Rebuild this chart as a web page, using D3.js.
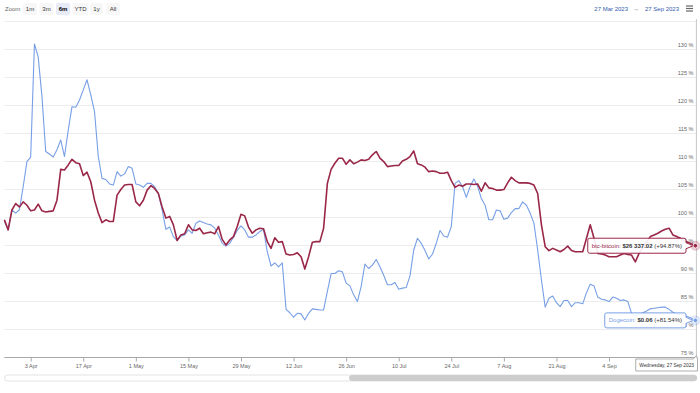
<!DOCTYPE html>
<html>
<head>
<meta charset="utf-8">
<script src="https://cdn.jsdelivr.net/npm/d3@7"></script>
<style>
  body { margin: 0; background: #fff; }
  svg { display: block; font-family: "Liberation Sans", Arial, sans-serif; }
</style>
</head>
<body>
<svg id="chart" width="700" height="393"></svg>
<script>
// daily closes, rebased to 100 on the first day
var firstDay = "2023-03-27";
var lastDay = "2023-09-27";

var btc = [
  99.5, 97.7, 101.25, 102.4, 101.8, 102.7, 102.1, 101.1, 101.25, 102.3,
  101.1, 100.9, 101.0, 101.1, 103.0, 108.5, 108.4, 109.3, 110.3, 109.7,
  109.5, 107.4, 108.0, 106.3, 103.0, 100.7, 99.0, 99.5, 99.2, 99.2,
  103.9, 104.9, 105.7, 105.8, 105.8, 102.7, 102.0, 103.0, 104.8, 105.6,
  105.1, 104.2, 101.8, 99.8, 100.1, 98.6, 95.8, 96.8, 97.0, 98.6,
  97.7, 97.6, 98.0, 97.0, 97.2, 97.3, 97.0, 98.3, 96.0, 95.0,
  95.9, 96.5, 98.3, 100.5, 100.2, 98.2, 97.1, 97.7, 98.0, 97.9,
  95.6, 94.4, 96.3, 95.5, 95.6, 93.4, 93.2, 93.3, 93.6, 92.9,
  90.7, 92.9, 95.5, 95.6, 95.6, 98.0, 106.0, 108.5, 109.6, 110.5,
  110.5, 109.4, 110.2, 109.5, 109.8, 110.2, 110.1, 110.3, 111.1, 111.7,
  110.5, 109.9, 109.0, 109.1, 109.2, 109.2, 110.0, 110.3, 110.8, 111.8,
  109.5, 109.3, 108.9, 108.1, 108.2, 108.1, 107.8, 107.8, 108.0, 106.5,
  105.3, 105.7, 105.5, 105.9, 105.9, 105.8, 105.9, 104.6, 106.1, 105.2,
  105.1, 104.8, 104.8, 104.9, 106.1, 107.1, 106.5, 106.1, 106.1, 106.1,
  106.0, 105.7, 104.2, 98.6, 94.7, 94.0, 94.4, 94.1, 93.8, 94.2,
  94.8, 94.0, 93.8, 93.8, 93.8, 96.2, 98.6, 96.2, 93.5, 93.4,
  93.2, 92.9, 92.9, 92.9, 93.2, 93.5, 93.3, 93.2, 92.0, 93.5,
  94.5, 95.5, 96.5, 96.8, 97.1, 97.5, 97.8, 98.0, 96.8, 96.5,
  96.2, 95.8, 95.5, 95.2, 94.87
];

var doge = [
  99.2, 97.7, 101.25, 100.7, 101.3, 105.4, 109.9, 110.7, 130.9, 128.6,
  121.5, 111.7, 111.25, 110.7, 112.0, 113.75, 110.8, 115.5, 119.7, 119.6,
  120.9, 122.7, 124.5, 121.8, 118.8, 110.8, 106.9, 106.7, 105.9, 105.7,
  108.1, 107.3, 107.7, 109.0, 108.7, 105.9, 105.7, 105.3, 106.0, 106.0,
  105.4, 104.2, 101.25, 97.8, 98.2, 96.5, 95.8, 96.6, 96.8, 97.7,
  97.1, 98.9, 99.3, 99.0, 98.75, 98.6, 98.0, 96.8, 95.3, 94.8,
  95.3, 96.4, 97.6, 98.4, 97.7, 96.4, 96.4, 96.8, 97.4, 97.8,
  93.8, 91.25, 91.8, 91.1, 91.8, 83.5, 82.9, 82.1, 82.8, 82.7,
  81.6, 82.8, 83.6, 83.5, 83.4, 83.4, 86.7, 89.9, 89.9, 90.4,
  90.2, 88.2, 87.7, 86.1, 84.9, 87.6, 91.6, 90.8, 91.4, 92.4,
  91.1, 89.6, 87.9, 87.9, 88.3, 87.1, 87.3, 87.4, 89.5, 94.1,
  96.2, 95.3, 94.0, 92.5, 93.4, 95.3, 97.6, 96.6, 96.4, 98.3,
  106.0, 106.5, 105.4, 103.5, 105.4, 106.8, 105.5, 103.3, 102.1, 99.5,
  99.5, 101.25, 101.1, 99.6, 99.8, 100.8, 101.5, 101.5, 102.7, 102.1,
  100.7, 98.9, 94.1, 88.75, 83.9, 85.5, 85.9, 84.7, 84.0, 85.1,
  85.1, 84.0, 84.7, 84.7, 84.5, 86.5, 88.0, 87.7, 85.7, 85.3,
  85.2, 84.9, 85.7, 85.5, 85.1, 85.2, 84.9, 82.8, 82.3, 82.5,
  82.9, 83.2, 83.6, 83.7, 83.8, 83.9, 83.9, 83.5, 83.0, 82.7,
  82.6, 82.4, 82.2, 81.9, 81.54
];

var yTicks = [75, 80, 85, 90, 95, 100, 105, 110, 115, 120, 125, 130, 135];
var xTicks = ["2023-04-03", "2023-04-17", "2023-05-01", "2023-05-15", "2023-05-29", "2023-06-12",
              "2023-06-26", "2023-07-10", "2023-07-24", "2023-08-07", "2023-08-21", "2023-09-04"];

var rangeButtons = ["1m", "3m", "6m", "YTD", "1y", "All"];
var selectedRange = "6m";
var rangeFrom = "27 Mar 2023", rangeTo = "27 Sep 2023";

var btcTip = ["btc-bitcoin: ", "$26 337.02", " (+94.87%)"];
var dogeTip = ["Dogecoin: ", "$0.06", " (+81.54%)"];
var hoverDate = "Wednesday, 27 Sep 2023";

var red = "#9a2748", blue = "#779fe6";

var svg = d3.select("#chart");
var parse = d3.utcParse("%Y-%m-%d");
var dates = d3.utcDay.range(parse(firstDay), d3.utcDay.offset(parse(lastDay), 1));

var plotL = 4.4, plotR = 695.4, plotT = 21, plotB = 357;

var x = d3.scaleUtc().domain([dates[0], dates[dates.length - 1]]).range([plotL, plotR]);
var y = d3.scaleLinear().domain([75, 135]).range([plotB, plotT]);

// grid
svg.append("g").selectAll("line")
  .data(yTicks).enter().append("line")
  .attr("x1", plotL).attr("x2", plotR + 2)
  .attr("y1", function(d) { return y(d) + 0.5; })
  .attr("y2", function(d) { return y(d) + 0.5; })
  .attr("stroke", "#ececec");

// y labels sit inside the plot, above their grid line
svg.append("g").selectAll("text")
  .data(yTicks.filter(function(d) { return d < 135; })).enter().append("text")
  .attr("x", plotR - 2)
  .attr("y", function(d) { return y(d) - 2; })
  .attr("text-anchor", "end")
  .style("font-size", "5.5px")
  .style("fill", "#666")
  .text(function(d) { return d + " %"; });

// x axis
var xAxis = d3.axisBottom(x)
  .tickValues(xTicks.map(parse))
  .tickFormat(d3.utcFormat("%-d %b"))
  .tickSize(4)
  .tickSizeOuter(0)
  .tickPadding(3);

var ax = svg.append("g")
  .attr("transform", "translate(0," + (plotB + 0.5) + ")")
  .call(xAxis);
ax.select(".domain").attr("stroke", "#a8a8a8").attr("d", "M" + plotL + ",0H" + (plotR + 2));
ax.selectAll(".tick line").attr("stroke", "#a8a8a8");
ax.selectAll(".tick text").style("font-size", "5.5px").style("fill", "#666").attr("font-family", null);

// crosshair at the hovered day
var last = dates[dates.length - 1];
svg.append("line")
  .attr("x1", x(last) + 1).attr("x2", x(last) + 1)
  .attr("y1", plotT - 2).attr("y2", plotB)
  .attr("stroke", "#c8c8c8");

// lines
var line = d3.line()
  .x(function(d, i) { return x(dates[i]); })
  .y(function(d) { return y(d); });

svg.append("path").datum(doge)
  .attr("d", line).attr("fill", "none")
  .attr("stroke", blue).attr("stroke-width", 1.1).attr("stroke-linejoin", "round");

svg.append("path").datum(btc)
  .attr("d", line).attr("fill", "none")
  .attr("stroke", red).attr("stroke-width", 1.6).attr("stroke-linejoin", "round");

// tooltips (callouts pointing at the last point)
function callout(parts, value, color) {
  var px = x(last), py = y(value);
  var g = svg.append("g");
  var t = g.append("text").attr("y", py + 2).style("font-size", "6px");
  t.append("tspan").text(parts[0]).style("fill", color);
  t.append("tspan").text(parts[1]).style("fill", "#333").style("font-weight", "bold");
  t.append("tspan").text(parts[2]).style("fill", "#333");
  var w = t.node().getComputedTextLength() + 8;
  var bx = 686 - w, h = 15, by = py - h / 2;
  t.attr("x", bx + 4);
  var r = 2;
  var p = "M" + (bx + r) + "," + by +
    "H" + (bx + w - r) + "Q" + (bx + w) + "," + by + " " + (bx + w) + "," + (by + r) +
    "V" + (py - 3) + "L" + (px - 2) + "," + py + "L" + (bx + w) + "," + (py + 3) +
    "V" + (by + h - r) + "Q" + (bx + w) + "," + (by + h) + " " + (bx + w - r) + "," + (by + h) +
    "H" + (bx + r) + "Q" + bx + "," + (by + h) + " " + bx + "," + (by + h - r) +
    "V" + (by + r) + "Q" + bx + "," + by + " " + (bx + r) + "," + by + "Z";
  g.insert("path", "text").attr("d", p)
    .attr("fill", "rgba(255,255,255,0.9)").attr("stroke", color).attr("stroke-width", 1);
  svg.append("circle").attr("cx", px).attr("cy", py).attr("r", 5)
    .attr("fill", color).attr("fill-opacity", 0.25);
  svg.append("circle").attr("cx", px).attr("cy", py).attr("r", 2.3)
    .attr("fill", color).attr("stroke", "#fff").attr("stroke-width", 0.8);
}
callout(btcTip, btc[btc.length - 1], red);
callout(dogeTip, doge[doge.length - 1], blue);

// date label on the x axis
var dg = svg.append("g");
var dt = dg.append("text").attr("y", 366.5).style("font-size", "4.8px").style("fill", "#333").text(hoverDate);
var dw = dt.node().getComputedTextLength() + 7;
var dx0 = 697.5 - dw;
dt.attr("x", dx0 + 3.5);
dg.insert("path", "text")
  .attr("d", "M" + dx0 + ",359H" + (x(last) - 2) + "L" + (x(last) + 1) + ",355.5L" + 697.5 + ",359V371H" + dx0 + "Z")
  .attr("fill", "#fff").attr("stroke", "#999").attr("stroke-width", 0.8);

// range selector
svg.append("text").attr("x", 5).attr("y", 11).style("font-size", "6px").style("fill", "#666").text("Zoom");
var btnX = [23, 39.5, 56, 72.5, 90, 106];
var btnW = [14, 14, 14, 16, 13, 14];
var bg = svg.append("g").selectAll("g").data(rangeButtons).enter().append("g");
bg.append("rect")
  .attr("x", function(d, i) { return btnX[i]; }).attr("y", 3)
  .attr("width", function(d, i) { return btnW[i]; }).attr("height", 12).attr("rx", 2)
  .attr("fill", function(d) { return d === selectedRange ? "#e6ebf5" : "#f7f7f7"; });
bg.append("text")
  .attr("x", function(d, i) { return btnX[i] + btnW[i] / 2; }).attr("y", 11)
  .attr("text-anchor", "middle")
  .style("font-size", "6px")
  .style("font-weight", function(d) { return d === selectedRange ? "bold" : "normal"; })
  .style("fill", function(d) { return d === selectedRange ? "#000" : "#333"; })
  .text(function(d) { return d; });

// input dates
svg.append("text").attr("x", 628).attr("y", 11).attr("text-anchor", "end")
  .style("font-size", "6px").style("fill", "#335cad").text(rangeFrom);
svg.append("text").attr("x", 636).attr("y", 11).attr("text-anchor", "middle")
  .style("font-size", "6px").style("fill", "#666").text("\u2192");
svg.append("text").attr("x", 645).attr("y", 11)
  .style("font-size", "6px").style("fill", "#335cad").text(rangeTo);

// export menu icon
svg.append("g").selectAll("line").data([6, 8.5, 11]).enter().append("line")
  .attr("x1", 686).attr("x2", 693).attr("y1", function(d) { return d; }).attr("y2", function(d) { return d; })
  .attr("stroke", "#666").attr("stroke-width", 1.2);

// scrollbar
svg.append("rect").attr("x", 4.5).attr("y", 375).attr("width", 692.5).attr("height", 6).attr("rx", 3)
  .attr("fill", "#fff").attr("stroke", "#dcdcdc").attr("stroke-width", 0.8);
svg.append("rect").attr("x", 349).attr("y", 375).attr("width", 348).attr("height", 6).attr("rx", 3)
  .attr("fill", "#cdcdcd");
</script>
</body>
</html>
